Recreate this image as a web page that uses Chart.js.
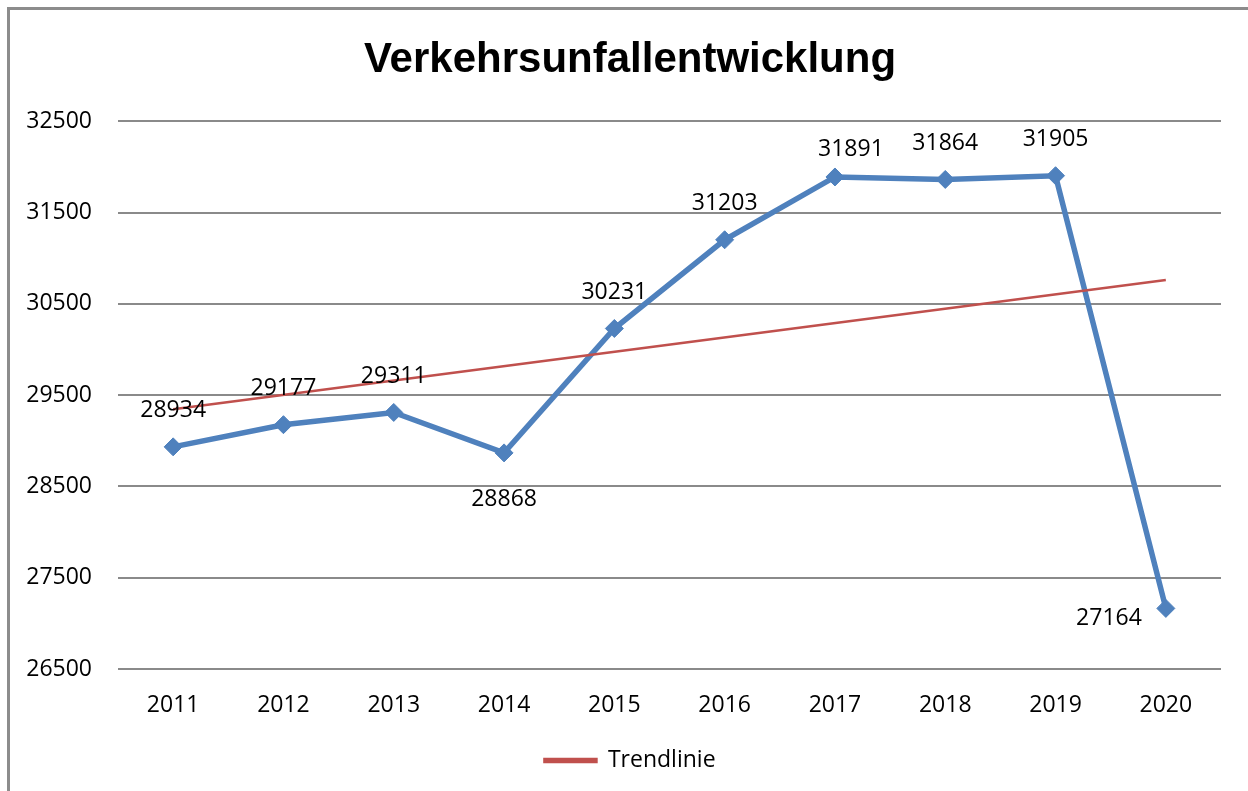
<!DOCTYPE html>
<html>
<head>
<meta charset="utf-8">
<script src="https://cdn.jsdelivr.net/npm/chart.js@4.4.1/dist/chart.umd.min.js"></script>
<style>
  html, body { margin: 0; padding: 0; background: #fff; overflow: hidden; }
  #frame { position: absolute; left: 7px; top: 7px; width: 1300px; height: 900px; border: 3px solid #8c8c8c; }
  #wrap { position: absolute; left: 0; top: 0; width: 1248px; height: 791px; }
</style>
</head>
<body>
<div id="frame"></div>
<div id="wrap"><canvas id="unfall-chart"></canvas></div>
<script>
const years = ['2011', '2012', '2013', '2014', '2015', '2016', '2017', '2018', '2019', '2020'];
const accidents = [28934, 29177, 29311, 28868, 30231, 31203, 31891, 31864, 31905, 27164];
// trend line at both ends, straight in between
const trendLine = [29347, null, null, null, null, null, null, null, null, 30763];
const yTickValues = [26500, 27500, 28500, 29500, 30500, 31500, 32500];
const labelPlacement = ['above', 'above', 'above', 'below', 'above', 'above', 'nudged', 'above', 'above', 'left'];

const tickFont = { family: '"Open Sans", sans-serif', size: 23 };

// draws the value next to each point, the way the spreadsheet placed them
const valueLabels = {
  id: 'valueLabels',
  afterDatasetsDraw(chart) {
    const meta = chart.getDatasetMeta(1);
    const ctx = chart.ctx;
    ctx.save();
    ctx.font = '23px "Open Sans", sans-serif';
    ctx.fillStyle = '#000';
    ctx.textBaseline = 'middle';
    meta.data.forEach((pt, i) => {
      let x = pt.x, y = pt.y;
      ctx.textAlign = 'center';
      if (labelPlacement[i] === 'below') {
        y += 47;
      } else if (labelPlacement[i] === 'left') {
        ctx.textAlign = 'right';
        x -= 24;
        y += 10;
      } else if (labelPlacement[i] === 'nudged') {
        x += 16;
        y -= 28;
      } else {
        y -= 36;
      }
      ctx.fillText(String(accidents[i]), x, y);
    });
    ctx.restore();
  }
};

let ctx = document.getElementById('unfall-chart').getContext('2d');
let unfallChart = new Chart(ctx, {
  type: 'line',
  data: {
    labels: years,
    datasets: [{
      label: 'Trendlinie',
      data: trendLine,
      borderColor: '#C0504D',
      backgroundColor: '#C0504D',
      borderWidth: 2.5,
      pointRadius: 0,
      spanGaps: true,
      fill: false,
    }, {
      label: 'Verkehrsunfälle',
      data: accidents,
      borderColor: '#4F81BD',
      backgroundColor: '#4F81BD',
      borderWidth: 5.5,
      pointStyle: 'rectRot',
      pointRadius: 9,
      pointBorderWidth: 1,
      tension: 0,
      fill: false,
    }]
  },
  options: {
    responsive: true,
    maintainAspectRatio: false,
    animation: false,
    layout: {
      padding: { left: 12, right: 0, top: 0, bottom: 9 }
    },
    plugins: {
      title: {
        display: true,
        text: 'Verkehrsunfallentwicklung',
        color: '#000',
        font: { family: '"Liberation Sans", Arial, sans-serif', size: 42, weight: 'bold', lineHeight: 1.2 },
        padding: { top: 35, bottom: 36 }
      },
      legend: {
        position: 'bottom',
        labels: {
          filter: item => item.datasetIndex === 0,
          boxWidth: 52,
          boxHeight: 3,
          color: '#000',
          font: tickFont,
          padding: 10
        }
      },
      tooltip: { enabled: false }
    },
    scales: {
      x: {
        offset: true,
        grid: { display: false },
        border: { display: false },
        ticks: { color: '#000', font: tickFont, padding: 15, maxRotation: 0 },
        afterFit(scale) { scale.height = 70; }
      },
      y: {
        min: 26500,
        max: 32500,
        afterBuildTicks(scale) {
          scale.ticks = yTickValues.map(v => ({ value: v }));
        },
        grid: { color: '#8a8a8a', lineWidth: 2, drawTicks: false },
        border: { display: false },
        ticks: { color: '#000', font: tickFont, padding: 26, callback: v => String(v) },
        afterFit(scale) { scale.width = 106; }
      },
      // empty strip on the right so the plot ends where the original does
      spacer: {
        position: 'right',
        grid: { display: false },
        border: { display: false },
        ticks: { display: false },
        afterFit(scale) { scale.width = 27; }
      }
    }
  },
  plugins: [valueLabels]
});
</script>
</body>
</html>
